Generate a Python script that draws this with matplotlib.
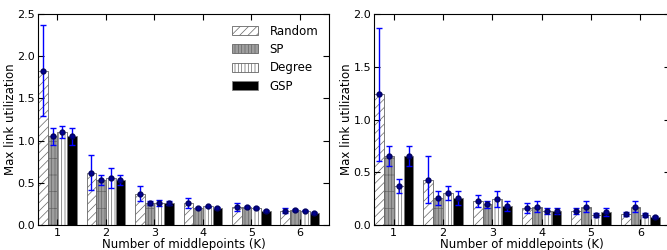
import matplotlib
matplotlib.use("Agg")
import matplotlib.pyplot as plt
import numpy as np

K = [1, 2, 3, 4, 5, 6]
methods = ["Random", "SP", "Degree", "GSP"]

# Left panel: mean values and error half-widths
left_vals = {
    "Random": [1.83, 0.62, 0.37, 0.26, 0.21, 0.17],
    "SP":     [1.05, 0.53, 0.26, 0.20, 0.21, 0.18],
    "Degree": [1.10, 0.56, 0.26, 0.22, 0.20, 0.17],
    "GSP":    [1.05, 0.53, 0.26, 0.20, 0.165, 0.14],
}
left_err = {
    "Random": [0.54, 0.21, 0.09, 0.06, 0.045, 0.03],
    "SP":     [0.10, 0.06, 0.02, 0.01, 0.01, 0.01],
    "Degree": [0.07, 0.12, 0.04, 0.01, 0.01, 0.01],
    "GSP":    [0.10, 0.06, 0.02, 0.01, 0.01, 0.01],
}
# Right panel
right_vals = {
    "Random": [1.24, 0.43, 0.225, 0.16, 0.13, 0.105],
    "SP":     [0.65, 0.255, 0.195, 0.175, 0.175, 0.175],
    "Degree": [0.37, 0.30, 0.25, 0.13, 0.095, 0.095],
    "GSP":    [0.65, 0.255, 0.18, 0.13, 0.125, 0.075],
}
right_err = {
    "Random": [0.63, 0.22, 0.055, 0.045, 0.03, 0.015],
    "SP":     [0.095, 0.07, 0.03, 0.05, 0.05, 0.05],
    "Degree": [0.07, 0.065, 0.075, 0.03, 0.02, 0.015],
    "GSP":    [0.095, 0.07, 0.05, 0.03, 0.04, 0.01],
}

styles = {
    "Random": dict(facecolor="white", hatch="////", edgecolor="0.4"),
    "SP":     dict(facecolor="0.62", hatch="|||||-", edgecolor="0.4"),
    "Degree": dict(facecolor="white", hatch="|||||", edgecolor="0.4"),
    "GSP":    dict(facecolor="black", hatch=None, edgecolor="0.5"),
}

plt.rcParams["font.family"] = ["DejaVu Sans"]
plt.rcParams["hatch.linewidth"] = 0.5

fig = plt.figure(figsize=(6.67, 2.5), dpi=100)
axL = fig.add_axes([38/667, 25/250, 291/667, 211/250])
axR = fig.add_axes([374/667, 25/250, 296/667, 211/250])

width = 0.2
x = np.array(K, dtype=float)

def draw(ax, vals, errs, ymax, yticks):
    for i, m in enumerate(methods):
        pos = x - 0.4 + i * width
        st = styles[m]
        ax.bar(pos, vals[m], width=width, align="edge", facecolor=st["facecolor"],
               hatch=st["hatch"], edgecolor=st["edgecolor"], linewidth=0.6, label=m)
        ax.errorbar(pos + width / 2, vals[m], yerr=errs[m], fmt="o", color="blue",
                    ecolor="blue", markerfacecolor="#000090", markeredgecolor="#000060",
                    markersize=3.5, capsize=2, elinewidth=1.0, capthick=1.0)
    ax.set_xlim(0.6, 6.6)
    ax.set_ylim(0, ymax)
    ax.set_xticks(K)
    ax.set_yticks(yticks)
    ax.set_yticklabels([f"{t:.1f}" for t in yticks])
    ax.tick_params(direction="in", top=True, right=True, labelsize=8, length=4, pad=2)
    ax.set_xlabel("Number of middlepoints (K)", fontsize=8.5, labelpad=0)
    ax.set_ylabel("Max link utilization", fontsize=8.5, labelpad=0)

draw(axL, left_vals, left_err, 2.5, [0.0, 0.5, 1.0, 1.5, 2.0, 2.5])
draw(axR, right_vals, right_err, 2.0, [0.0, 0.5, 1.0, 1.5, 2.0])

handles, labels = axL.get_legend_handles_labels()
axL.legend(handles, labels, loc="upper right", frameon=False, fontsize=8.5,
           handlelength=2.2, handleheight=0.8, labelspacing=0.45, handletextpad=1.0,
           bbox_to_anchor=(1.0, 1.0))

fig.savefig("out.png", dpi=100)
